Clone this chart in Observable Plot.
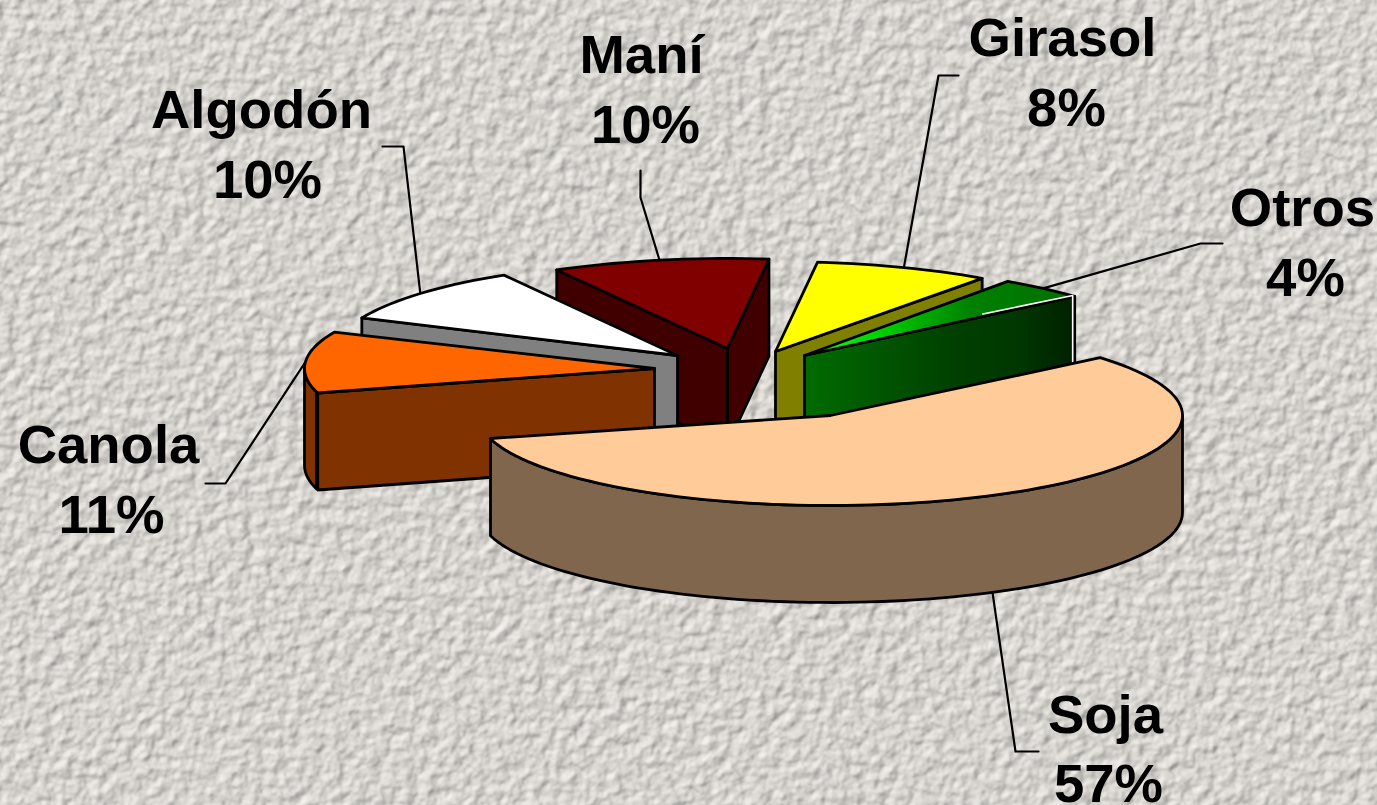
<!DOCTYPE html>
<html>
<head>
<meta charset="utf-8">
<script src="https://cdn.jsdelivr.net/npm/d3@7"></script>
<script src="https://cdn.jsdelivr.net/npm/@observablehq/plot@0.6"></script>
<style>html,body{margin:0;padding:0;background:#d8d5d0;overflow:hidden}svg{display:block}</style>
</head>
<body>
<div id="chart"></div>
<script>
// Data
const categories = ["Soja", "Canola", "Algodón", "Maní", "Girasol", "Otros"];
const shares = [57, 11, 10, 10, 8, 4];
// Colours
const topColors = ["#FFCC99", "#FF6600", "#FFFFFF", "#800000", "#FFFF00", "url(#otrosTop)"];
const sideColors = ["#7F664D", "#803300", "#808080", "#400000", "#808000", "url(#otrosSide)"];
// Layout of each exploded wedge
const apexX = [830, 654, 677, 727, 775, 804];
const apexY = [415, 368, 355, 348, 351, 355];
const radiusX = [352, 350, 345, 350, 355, 358];
const radiusY = [90, 90, 93, 90, 90, 90];
const depth = 97;
const firstAngle = 41;
const turn = [-1, 0, 0, -1, -1, 0];
// Angular stretch of the outer wall that faces the viewer
const rimFrom = [0, -165, null, null, null, null];
const rimTo = [-165, -180, null, null, null, null];
const showStartFace = [false, true, true, true, false, false];
const showEndFace = [false, false, false, true, true, true];
const drawOrder = [3, 2, 1, 4, 5, 0];
// Labels and leaders
const nameX = [1105, 108, 261, 641, 1062, 1302];
const nameY = [715, 445, 110, 55, 38, 208];
const shareX = [1108, 111, 267, 645, 1066, 1305];
const shareY = [784, 515, 180, 125, 108, 278];
const elbowX = [1015, 225, 403, 640, 938, 1200];
const elbowY = [751, 483, 146, 197, 75, 243];
const leaderEndX = [1038, 205, 382, 640, 958, 1222];
const leaderEndY = [751, 483, 146, 170, 75, 243];

// Angles from shares, clockwise
let cursor = firstAngle;
const wedges = categories.map((name, i) => {
  const start = cursor + turn[i];
  const end = start - shares[i] * 3.6;
  cursor -= shares[i] * 3.6;
  return {name, i, start, end, mid: (start + end) / 2};
});
const pointAt = (i, a, drop = 0) => [
  apexX[i] + radiusX[i] * Math.cos(a * Math.PI / 180),
  apexY[i] - radiusY[i] * Math.sin(a * Math.PI / 180) + drop
];
const arcPoints = (i, a0, a1, drop = 0) => {
  const n = Math.ceil(Math.abs(a0 - a1) / 2);
  return d3.range(n + 1).map(k => pointAt(i, a0 + (a1 - a0) * k / n, drop));
};
const closed = pts => [...pts, pts[0]];

const polygons = [];
for (const i of drawOrder) {
  const w = wedges[i];
  const apex = [apexX[i], apexY[i]], apexLow = [apexX[i], apexY[i] + depth];
  if (i === 0) {
    // pale edges of the Otros wedge sit just behind Soja
    const e = pointAt(5, wedges[5].end), eLow = pointAt(5, wedges[5].end, depth);
    const mid = [apexX[5] + (e[0] - apexX[5]) * 0.66, apexY[5] + (e[1] - apexY[5]) * 0.66];
    polygons.push({pale: true, pts: [[mid[0], mid[1] - 2.5], [e[0] - 2, e[1] - 1], [e[0] - 2, eLow[1]]]});
  }
  if (rimFrom[i] !== null) {
    polygons.push({fill: sideColors[i], pts: closed([...arcPoints(i, rimFrom[i], rimTo[i]), ...arcPoints(i, rimFrom[i], rimTo[i], depth).reverse()])});
  }
  if (showEndFace[i]) {
    polygons.push({fill: sideColors[i], pts: closed([apex, pointAt(i, w.end), pointAt(i, w.end, depth), apexLow])});
  }
  if (showStartFace[i]) {
    polygons.push({fill: sideColors[i], pts: closed([apex, pointAt(i, w.start), pointAt(i, w.start, depth), apexLow])});
  }
  polygons.push({fill: topColors[i], pts: closed([apex, ...arcPoints(i, w.start, w.end)])});
}

// Leader rows: rim midpoint -> elbow -> label
const leaders = wedges.map(w => {
  const front = w.name === "Soja";
  return [pointAt(w.i, w.mid, front ? depth : 0), [elbowX[w.i], elbowY[w.i]], [leaderEndX[w.i], leaderEndY[w.i]]];
});
const nameLabels = wedges.map(w => ({x: nameX[w.i], y: nameY[w.i], text: w.name}));
const shareLabels = wedges.map(w => ({x: shareX[w.i], y: shareY[w.i], text: `${shares[w.i]}%`}));
const labelStyle = {x: "x", y: "y", text: "text", fontSize: 54.5, fontWeight: "bold", fontFamily: "'Liberation Sans', Arial, sans-serif", fill: "#000", textAnchor: "middle"};

const backdrop = () => {
  const g = d3.create("svg:g");
  g.html(`
    <defs>
      <filter id="stucco" x="0" y="0" width="100%" height="100%" color-interpolation-filters="sRGB">
        <feTurbulence type="fractalNoise" baseFrequency="0.085" numOctaves="3" seed="11" result="n"/>
        <feGaussianBlur in="n" stdDeviation="0.8" result="b"/>
        <feDiffuseLighting in="b" surfaceScale="2.1" diffuseConstant="1.08" lighting-color="#e4e1dc">
          <feDistantLight azimuth="225" elevation="60"/>
        </feDiffuseLighting>
      </filter>
      <linearGradient id="otrosTop" x1="0" x2="1" y1="0" y2="0">
        <stop offset="0.08" stop-color="#00FF00"/>
        <stop offset="0.62" stop-color="#008000"/>
        <stop offset="1" stop-color="#007000"/>
      </linearGradient>
      <linearGradient id="otrosSide" x1="0" x2="1" y1="0" y2="0">
        <stop offset="0" stop-color="#006C00"/>
        <stop offset="0.55" stop-color="#004000"/>
        <stop offset="0.78" stop-color="#003800"/>
        <stop offset="1" stop-color="#002000"/>
      </linearGradient>
    </defs>
    <rect x="-20" y="-20" width="1417" height="845" filter="url(#stucco)"/>`);
  return g.node();
};

const chart = Plot.plot({
  width: 1377,
  height: 805,
  margin: 0,
  x: {domain: [0, 1377], range: [0, 1377], axis: null},
  y: {domain: [0, 805], range: [0, 805], axis: null},
  style: {background: "transparent", fontFamily: "'Liberation Sans', Arial, sans-serif"},
  marks: [
    backdrop,
    ...leaders.map(pts => Plot.line(pts, {x: d => d[0], y: d => d[1], stroke: "#000", strokeWidth: 2.2})),
    ...polygons.map(p => p.pale
      ? Plot.line(p.pts, {x: d => d[0], y: d => d[1], stroke: "#ffffff", strokeWidth: 1.6})
      : Plot.line(p.pts, {x: d => d[0], y: d => d[1], fill: p.fill, stroke: "#000", strokeWidth: 2.8, strokeLinejoin: "round"})),
    Plot.text(nameLabels, labelStyle),
    Plot.text(shareLabels, labelStyle)
  ]
});
document.getElementById("chart").append(chart);
</script>
</body>
</html>
